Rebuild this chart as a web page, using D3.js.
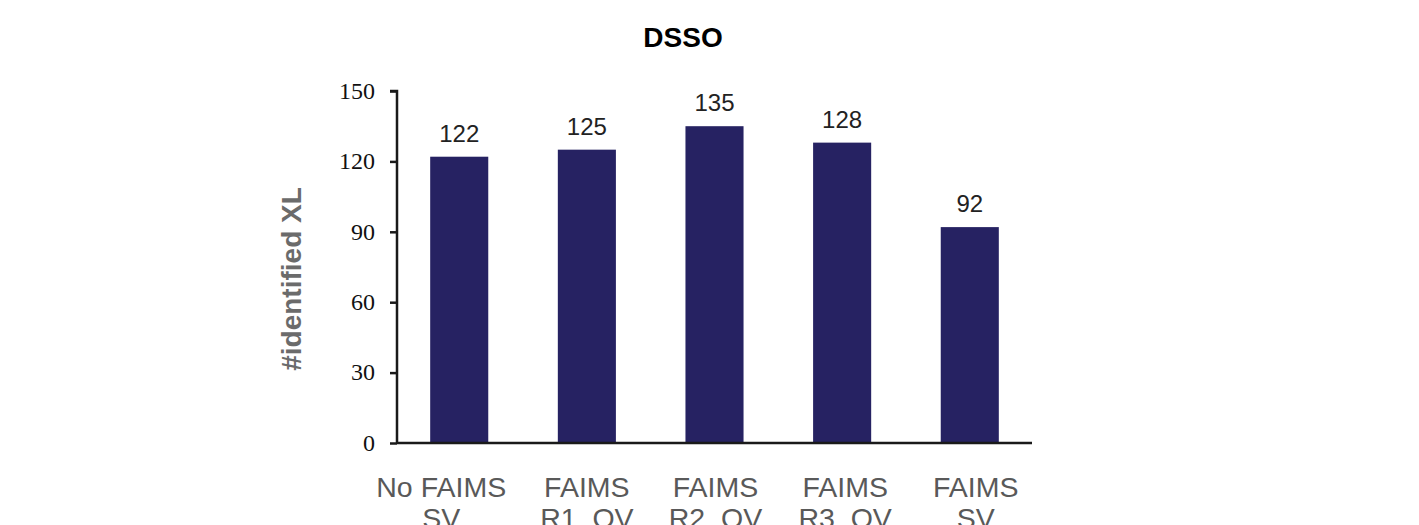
<!DOCTYPE html>
<html><head><meta charset="utf-8">
<script src="https://cdn.jsdelivr.net/npm/d3@7"></script>
<style>body{margin:0;background:#fff;} svg{display:block;}</style>
</head><body>
<svg id="chart" width="1419" height="525"></svg>
<script>
const categories = [["No FAIMS","SV"],["FAIMS","R1_OV"],["FAIMS","R2_OV"],["FAIMS","R3_OV"],["FAIMS","SV"]];
const values = [122,125,135,128,92];
const yTicks = [0,30,60,90,120,150];
const chartTitle = "DSSO";
const yTitle = "#identified XL";

(function(){
const svg = d3.select("#chart");
const mLeft = 397, mRight = 1032, mTop = 91, mBottom = 443;
const labelShift = [-18, 0, 1, 3, 6];

const x = d3.scaleBand().domain(d3.range(categories.length)).range([mLeft, mRight]).paddingInner(0.545).paddingOuter(0.26);
const y = d3.scaleLinear().domain([0,150]).range([mBottom, mTop]);

svg.append("text").attr("x",683).attr("y",47).attr("text-anchor","middle")
  .attr("font-family","Liberation Sans, Arial, sans-serif").attr("font-weight","bold").attr("font-size",28)
  .attr("fill","#000").text(chartTitle);

svg.selectAll("rect.bar").data(values).enter().append("rect").attr("class","bar")
  .attr("x",(d,i)=>x(i)).attr("width",x.bandwidth())
  .attr("y",d=>y(d)).attr("height",d=>mBottom-y(d)).attr("fill","#262262");

svg.selectAll("text.val").data(values).enter().append("text").attr("class","val")
  .attr("x",(d,i)=>x(i)+x.bandwidth()/2).attr("y",d=>y(d)-15).attr("text-anchor","middle")
  .attr("font-family","Liberation Sans, Arial, sans-serif").attr("font-size",24).attr("fill","#222")
  .text(d=>d);

const yAxis = d3.axisLeft(y).tickValues(yTicks).tickSize(7).tickPadding(15);
const gy = svg.append("g").attr("transform",`translate(${mLeft},0)`).call(yAxis);
gy.select(".domain").attr("stroke","#1a1a1a").attr("stroke-width",2.5).attr("d",`M-7,${mTop}H0V${mBottom}`);
gy.selectAll(".tick line").attr("stroke","#1a1a1a").attr("stroke-width",2.5);
gy.selectAll(".tick text").attr("font-family","Liberation Serif, Times New Roman, serif").attr("font-size",24).attr("fill","#111").attr("dy","0.3em");

const xAxis = d3.axisBottom(x).tickSize(0).tickFormat("");
const gx = svg.append("g").attr("transform",`translate(0,${mBottom})`).call(xAxis);
gx.select(".domain").attr("stroke","#1a1a1a").attr("stroke-width",2.5).attr("d",`M${mLeft},0H${mRight}`);

const lbl = svg.selectAll("text.cat").data(categories).enter().append("text").attr("class","cat")
  .attr("text-anchor","middle").attr("font-family","Liberation Sans, Arial, sans-serif")
  .attr("font-size",28.5).attr("fill","#595959");
lbl.each(function(d,i){
  const t = d3.select(this);
  d.forEach((line,j)=>{
    t.append("tspan").attr("x",x(i)+x.bandwidth()/2+labelShift[i]).attr("y",497+j*31).text(line);
  });
});

svg.append("text").attr("transform","translate(301,279) rotate(-90)").attr("text-anchor","middle")
  .attr("font-family","Liberation Sans, Arial, sans-serif").attr("font-weight","bold").attr("font-size",28)
  .attr("fill","#6b6b6b").text(yTitle);
})();
</script>
</body></html>
